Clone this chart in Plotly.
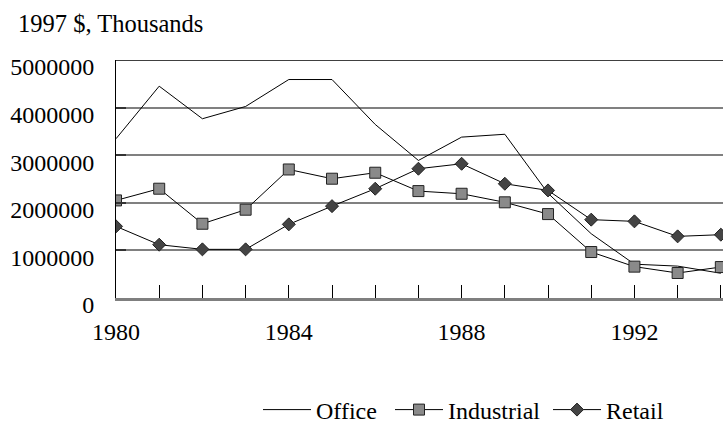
import plotly.graph_objects as go

years = list(range(1980, 1995))
office = [3346000, 4450000, 3766000, 4024000, 4590000, 4590000, 3646000, 2890000,
          3380000, 3440000, 2200000, 1350000, 710000, 670000, 520000]
industrial = [2050000, 2296000, 1560000, 1855000, 2700000, 2506000, 2632000, 2246000,
              2190000, 2010000, 1763000, 966000, 659000, 525000, 650000]
retail = [1505000, 1120000, 1022000, 1022000, 1547000, 1930000, 2296000, 2716000,
          2820000, 2400000, 2260000, 1646000, 1610000, 1295000, 1330000]

y_ticks = [0, 1000000, 2000000, 3000000, 4000000, 5000000]
x_label_years = [1980, 1984, 1988, 1992]
title_text = "1997 $, Thousands"

FONT = "Liberation Serif"
W, H = 723, 423
L, R, T, B = 116, 0, 60, 125
PH = H - T - B
PW = W - L - R

fig = go.Figure()
fig.add_trace(go.Scatter(x=years, y=office, name="Office", mode="lines",
                         line=dict(color="black", width=1), legend="legend"))
fig.add_trace(go.Scatter(x=years, y=industrial, name="Industrial", mode="lines+markers",
                         line=dict(color="black", width=1),
                         marker=dict(symbol="square", size=11, color="#8a8a8a",
                                     line=dict(color="#222222", width=1)),
                         legend="legend2"))
fig.add_trace(go.Scatter(x=years, y=retail, name="Retail", mode="lines+markers",
                         line=dict(color="black", width=1),
                         marker=dict(symbol="diamond", size=10, color="#444444",
                                     line=dict(color="#222222", width=1)),
                         legend="legend3"))

# darker gridlines at selected levels
for v in [3000000, 4000000]:
    fig.add_shape(type="line", xref="paper", x0=0, x1=1, yref="y", y0=v, y1=v,
                  line=dict(color="#222222", width=1), layer="below")
fig.add_shape(type="line", xref="paper", x0=0, x1=1, yref="y", y0=y_ticks[-1], y1=y_ticks[-1],
              line=dict(color="black", width=1.5), layer="above")

fig.add_annotation(text=title_text, xref="paper", yref="paper",
                   x=(16 - L) / PW, y=1 + (T - 23) / PH,
                   xanchor="left", yanchor="middle", showarrow=False,
                   font=dict(family=FONT, size=24.5, color="black"))


def leg(xpx):
    return dict(orientation="h", xref="container", yref="paper",
                x=xpx / W, xanchor="left", y=-(410 - T - PH) / PH, yanchor="middle",
                itemwidth=48,
                font=dict(family=FONT, size=24, color="black"),
                bgcolor="rgba(0,0,0,0)")


fig.update_layout(
    width=W, height=H,
    margin=dict(l=L, r=R, t=T, b=B, autoexpand=False),
    plot_bgcolor="white", paper_bgcolor="white",
    font=dict(family=FONT, size=24, color="black"),
    showlegend=True,
    legend=leg(258), legend2=leg(390), legend3=leg(548),
    xaxis=dict(range=[1980, 1994.05], tickvals=x_label_years,
               ticktext=[str(v) for v in x_label_years],
               ticks="inside", ticklen=13, tickcolor="black", tickwidth=1,
               minor=dict(dtick=1, tick0=1980, ticks="inside", ticklen=13,
                          tickcolor="black", tickwidth=1, showgrid=False),
               showgrid=False, zeroline=False, automargin=False,
               showline=True, linecolor="#7f7f7f", linewidth=3,
               ticklabelstandoff=10),
    yaxis=dict(range=[0, 5000000], tickvals=y_ticks,
               ticktext=[str(v) for v in y_ticks],
               ticks="inside", ticklen=10, tickcolor="#333333", tickwidth=2,
               showgrid=True, gridcolor="#808080", gridwidth=2, automargin=False,
               zeroline=False, showline=True, linecolor="black", linewidth=1,
               ticklabelstandoff=16, ticklabelshift=7),
)

fig.write_html("out.html", config={"displayModeBar": False},
               post_script="document.body.style.margin='0px';")
